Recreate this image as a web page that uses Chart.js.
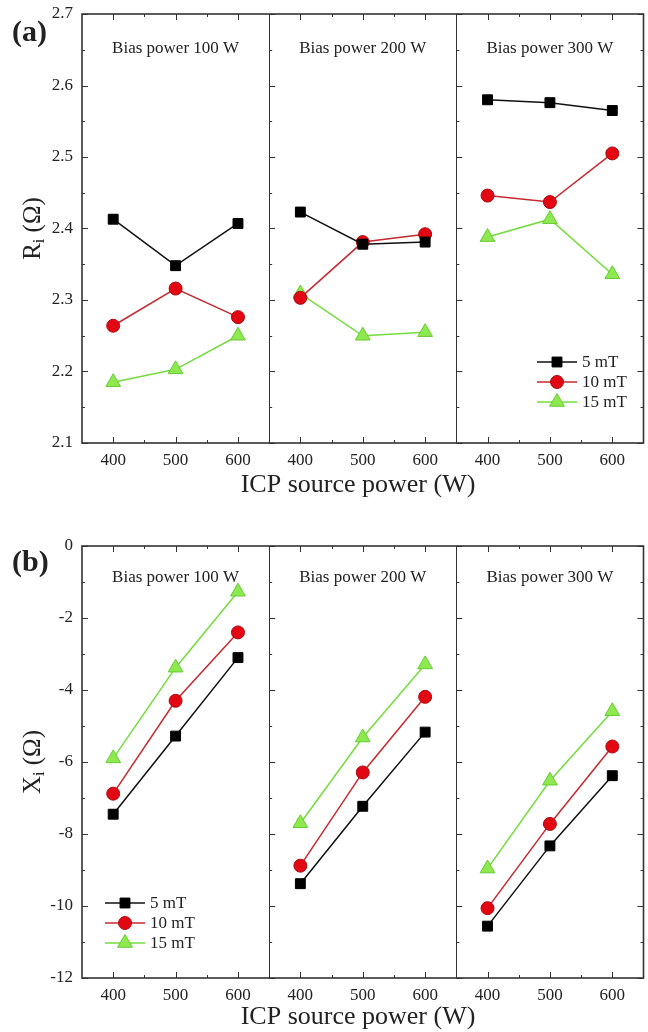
<!DOCTYPE html>
<html>
<head>
<meta charset="utf-8">
<script src="https://cdn.jsdelivr.net/npm/chart.js@4.4.1/dist/chart.umd.min.js"></script>
<style>
  html, body { margin: 0; padding: 0; background: #fff; overflow: hidden; }
  /* a little wider than the window: the line chart keeps ~10px free at the right for its markers */
  #wrapA { position: absolute; left: 0; top: 0; width: 653px; height: 510px; }
  #wrapB { position: absolute; left: 0; top: 510px; width: 653px; height: 522px; }
</style>
</head>
<body>
<div id="wrapA"><canvas id="chartA"></canvas></div>
<div id="wrapB"><canvas id="chartB"></canvas></div>
<script>
// categories
const icpPower = [400, 500, 600];
const biasPower = [100, 200, 300];
const fieldLabels = ['5 mT', '10 mT', '15 mT'];

// R_i values, order: bias 100 W (400, 500, 600), bias 200 W (...), bias 300 W (...)
const ri5mT  = [2.413, 2.348, 2.407,  2.423, 2.378, 2.381,  2.580, 2.576, 2.565];
const ri10mT = [2.264, 2.316, 2.276,  2.303, 2.381, 2.392,  2.446, 2.437, 2.505];
const ri15mT = [2.185, 2.203, 2.250,  2.309, 2.250, 2.255,  2.388, 2.413, 2.336];

// X_i values, same order
const xi5mT  = [-7.45, -5.28, -3.10,  -9.38, -7.23, -5.17,  -10.56, -8.33, -6.38];
const xi10mT = [-6.88, -4.30, -2.40,  -8.88, -6.29, -4.19,  -10.06, -7.72, -5.57];
const xi15mT = [-5.90, -3.38, -1.27,  -7.70, -5.32, -3.29,   -8.96, -6.52, -4.59];

// tick labels
const riTicks = [2.1, 2.2, 2.3, 2.4, 2.5, 2.6, 2.7];
const xiTicks = [-12, -10, -8, -6, -4, -2, 0];
const icpTicks = [400, 500, 600];

const SPAN = 300;      // width of one bias-power block on the shared x axis
const X0 = 350;        // left edge of the first block

Chart.defaults.font.family = "'Liberation Serif', 'DejaVu Serif', serif";
Chart.defaults.color = '#222';

const styles = [
  { line: '#111111', fill: '#000000', edge: '#000000', pointStyle: 'rect', radius: 7 },
  { line: '#c42a2f', fill: '#e30613', edge: '#a80d12', pointStyle: 'circle', radius: 6.5 },
  { line: '#74dc3c', fill: '#8ee84f', edge: '#66cc33', pointStyle: 'triangle', radius: 8.5 }
];

function toPoints(vals) {
  const pts = [];
  biasPower.forEach((b, g) => {
    icpPower.forEach((p, i) => pts.push({ x: p + SPAN * g, y: vals[g * icpPower.length + i] }));
    if (g < biasPower.length - 1) pts.push({ x: X0 + SPAN * (g + 1), y: null });
  });
  return pts;
}

function makeDatasets(series) {
  return series.map((vals, k) => ({
    label: fieldLabels[k],
    data: toPoints(vals),
    borderColor: styles[k].line,
    borderWidth: 1.5,
    backgroundColor: styles[k].fill,
    pointBackgroundColor: styles[k].fill,
    pointBorderColor: styles[k].edge,
    pointBorderWidth: 1,
    pointStyle: styles[k].pointStyle,
    pointRadius: styles[k].radius,
    pointHoverRadius: styles[k].radius,
    spanGaps: false,
    tension: 0
  }));
}

const panelPlugin = {
  id: 'panel',
  beforeDatasetsDraw(chart, args, o) {
    const { ctx, chartArea: a, scales: { x, y } } = chart;
    ctx.save();
    ctx.strokeStyle = '#333';
    ctx.lineWidth = 1;
    const lefts = biasPower.map((b, g) => x.getPixelForValue(X0 + SPAN * g));

    // y ticks (inward) on each block's left edge and on the right axis
    const n = Math.round((o.yMax - o.yMin) / o.yMinor);
    const per = Math.round(o.yMajor / o.yMinor);
    for (let i = 0; i <= n; i++) {
      const py = Math.round(y.getPixelForValue(o.yMin + i * o.yMinor)) + 0.5;
      const len = i % per === 0 ? 6 : 3;
      ctx.beginPath();
      lefts.forEach(lx => { ctx.moveTo(lx, py); ctx.lineTo(lx + len, py); });
      ctx.moveTo(a.right, py); ctx.lineTo(a.right - len, py);
      ctx.stroke();
    }
    // x ticks (inward) top and bottom
    biasPower.forEach((b, g) => {
      for (let v = X0 + 50; v < X0 + SPAN; v += 50) {
        const px = Math.round(x.getPixelForValue(v + SPAN * g)) + 0.5;
        const len = v % 100 === 0 ? 6 : 3;
        ctx.beginPath();
        ctx.moveTo(px, a.bottom); ctx.lineTo(px, a.bottom - len);
        ctx.moveTo(px, a.top); ctx.lineTo(px, a.top + len);
        ctx.stroke();
      }
    });
    // dividers
    ctx.beginPath();
    lefts.slice(1).forEach(lx => { ctx.moveTo(Math.round(lx) + 0.5, a.top); ctx.lineTo(Math.round(lx) + 0.5, a.bottom); });
    ctx.stroke();
    // frame
    ctx.lineWidth = 1.6;
    ctx.strokeRect(a.left, a.top, a.right - a.left, a.bottom - a.top);

    // block titles
    ctx.fillStyle = '#222';
    ctx.font = "17px 'Liberation Serif'";
    ctx.textAlign = 'center';
    ctx.textBaseline = 'middle';
    biasPower.forEach((b, g) => {
      const cx = x.getPixelForValue(X0 + SPAN * g + SPAN / 2);
      ctx.fillText('Bias power ' + b + ' W', cx, a.top + o.subDy);
    });
    ctx.restore();
  },
  afterDraw(chart, args, o) {
    const { ctx, chartArea: a } = chart;
    ctx.save();
    ctx.fillStyle = '#222';
    // panel label
    ctx.font = "bold 30px 'Liberation Serif'";
    ctx.textAlign = 'left';
    ctx.textBaseline = 'middle';
    ctx.fillText(o.label, 12, o.labelY);

    // x title
    ctx.font = "26px 'Liberation Serif'";
    ctx.textAlign = 'center';
    ctx.fillText('ICP source power (W)', o.xTitleX, o.xTitleY);

    // y title with subscript
    const big = "25px 'Liberation Serif'", small = "16px 'Liberation Serif'";
    ctx.font = big; const w1 = ctx.measureText(o.yTitle[0]).width;
    ctx.font = small; const w2 = ctx.measureText(o.yTitle[1]).width;
    ctx.font = big; const w3 = ctx.measureText(' (\u03A9)').width;
    const total = w1 + w2 + w3;
    ctx.translate(33, (a.top + a.bottom) / 2);
    ctx.rotate(-Math.PI / 2);
    ctx.textAlign = 'left';
    let tx = -total / 2;
    ctx.font = big; ctx.fillText(o.yTitle[0], tx, 0); tx += w1;
    ctx.font = small; ctx.fillText(o.yTitle[1], tx, 7); tx += w2;
    ctx.font = big; ctx.fillText(' (\u03A9)', tx, 0);
    ctx.setTransform(1, 0, 0, 1, 0, 0);
    ctx.restore();

    // legend
    ctx.save();
    ctx.font = "17px 'Liberation Serif'";
    ctx.textAlign = 'left';
    ctx.textBaseline = 'middle';
    chart.data.datasets.forEach((ds, k) => {
      const ly = o.legY + k * 20;
      ctx.strokeStyle = ds.borderColor;
      ctx.lineWidth = 1.5;
      ctx.beginPath();
      ctx.moveTo(o.legX, ly); ctx.lineTo(o.legX + 40, ly);
      ctx.stroke();
      ctx.fillStyle = ds.pointBackgroundColor;
      ctx.strokeStyle = ds.pointBorderColor;
      ctx.lineWidth = 1;
      Chart.helpers.drawPoint(ctx, { pointStyle: ds.pointStyle, radius: ds.pointRadius, borderWidth: 1, rotation: 0 }, o.legX + 20, ly);
      ctx.fillStyle = '#222';
      ctx.fillText(ds.label, o.legX + 45, ly + 1);
    });
    ctx.restore();
  }
};

function makeChart(id, series, yMin, yMax, yMajor, yMinor, tickValues, xHeight, padTop, opts) {
  return new Chart(document.getElementById(id), {
    type: 'line',
    data: { datasets: makeDatasets(series) },
    plugins: [panelPlugin],
    options: {
      responsive: true,
      maintainAspectRatio: false,
      animation: false,
      layout: { padding: { left: 0, right: 0, top: padTop, bottom: 0 } },
      plugins: {
        legend: { display: false },
        tooltip: { enabled: false },
        panel: Object.assign({ yMin, yMax, yMajor, yMinor }, opts)
      },
      scales: {
        x: {
          type: 'linear',
          min: X0,
          max: X0 + SPAN * biasPower.length,
          grid: { display: false, drawTicks: false },
          border: { display: false },
          afterBuildTicks: s => {
            s.ticks = [];
            biasPower.forEach((b, g) => icpTicks.forEach(t => s.ticks.push({ value: t + SPAN * g })));
          },
          afterFit: s => { s.height = xHeight; s.paddingLeft = 0; s.paddingRight = 0; },
          ticks: {
            autoSkip: false,
            maxRotation: 0,
            padding: 7,
            font: { size: 17 },
            color: '#222',
            callback: v => String(((v - X0) % SPAN) + X0)
          }
        },
        y: {
          min: yMin,
          max: yMax,
          grid: { display: false, drawTicks: false },
          border: { display: false },
          afterBuildTicks: s => { s.ticks = tickValues.map(v => ({ value: v })); },
          afterFit: s => { s.width = 82; s.paddingTop = 0; s.paddingBottom = 0; },
          ticks: {
            padding: 9,
            font: { size: 17 },
            color: '#222',
            callback: v => (yMajor < 1 ? v.toFixed(1) : String(v))
          }
        }
      }
    }
  });
}

makeChart('chartA', [ri5mT, ri10mT, ri15mT], 2.1, 2.7, 0.1, 0.05, riTicks, 67, 14,
  { label: '(a)', labelY: 33, yTitle: ['R', 'i'], xTitleX: 358, xTitleY: 485, subDy: 35, legX: 537, legY: 362 });

makeChart('chartB', [xi5mT, xi10mT, xi15mT], -12, 0, 2, 1, xiTicks, 54, 36,
  { label: '(b)', labelY: 53, yTitle: ['X', 'i'], xTitleX: 358, xTitleY: 507, subDy: 32, legX: 105, legY: 393 });
</script>
</body>
</html>
